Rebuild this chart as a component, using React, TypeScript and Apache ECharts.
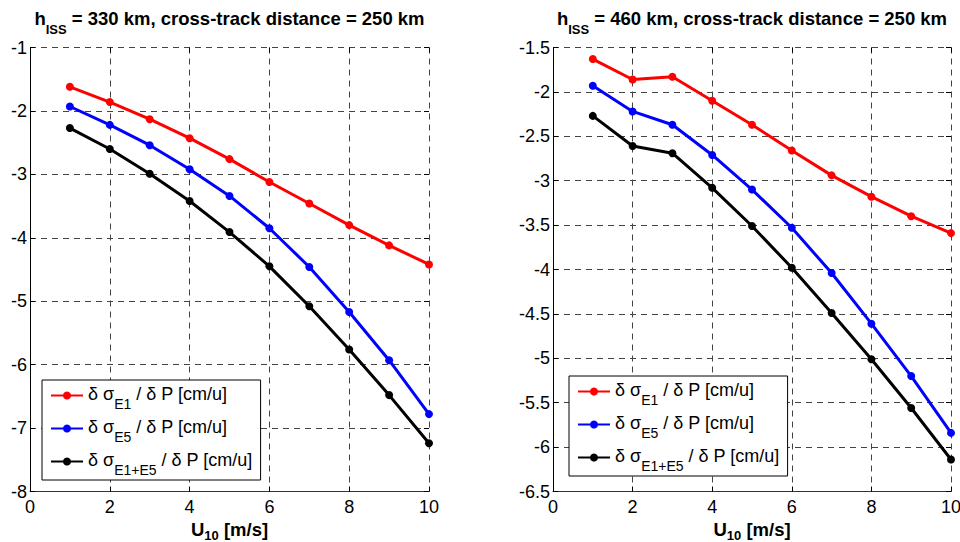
import React, { useEffect, useRef } from "react";
import * as echarts from "echarts";

const U10 = [1, 2, 3, 4, 5, 6, 7, 8, 9, 10];
const leftE1 = [-1.62, -1.86, -2.13, -2.43, -2.76, -3.12, -3.46, -3.8, -4.12, -4.42];
const leftE5 = [-1.93, -2.22, -2.54, -2.92, -3.34, -3.85, -4.46, -5.17, -5.93, -6.78];
const leftE15 = [-2.27, -2.6, -2.99, -3.42, -3.91, -4.45, -5.08, -5.76, -6.48, -7.24];
const rightE1 = [-1.63, -1.86, -1.83, -2.1, -2.37, -2.66, -2.94, -3.18, -3.4, -3.59];
const rightE5 = [-1.93, -2.22, -2.37, -2.71, -3.1, -3.53, -4.04, -4.61, -5.2, -5.84];
const rightE15 = [-2.27, -2.61, -2.69, -3.08, -3.51, -3.98, -4.49, -5.01, -5.56, -6.14];

const titles = ["330", "460"];
const FONT = "Liberation Sans, Arial, Helvetica, sans-serif";

const legendLabels: Record<string, string> = {
  a1: "{n|δ σ}{s|E1}{n| / δ P [cm/u]}",
  a5: "{n|δ σ}{s|E5}{n| / δ P [cm/u]}",
  a15: "{n|δ σ}{s|E1+E5}{n| / δ P [cm/u]}",
  b1: "{n|δ σ}{s|E1}{n| / δ P [cm/u]}",
  b5: "{n|δ σ}{s|E5}{n| / δ P [cm/u]}",
  b15: "{n|δ σ}{s|E1+E5}{n| / δ P [cm/u]}",
};

const pairs = (ys: number[]) => U10.map((x, i) => [x, ys[i]]);

export default function App() {
  const ref = useRef<HTMLDivElement>(null);
  useEffect(() => {
    if (!ref.current) return;
    const chart = echarts.init(ref.current, undefined, { renderer: "svg" });
    const grids = [
      { left: 30, right: 531, top: 47.5, bottom: 50.5, outerBoundsMode: "none", containLabel: false },
      { left: 553, right: 9, top: 47.5, bottom: 50.5, outerBoundsMode: "none", containLabel: false },
    ];
    const gridLine = { show: true, lineStyle: { type: [6, 5] as any, color: "#444", width: 1 } };
    const xName = "{b|U}{s|10}{b| [m/s]}";
    const nameRich = {
      b: { fontSize: 18.5, fontWeight: "bold", fontFamily: FONT, color: "#000", lineHeight: 20, verticalAlign: "top" },
      s: { fontSize: 13, fontWeight: "bold", fontFamily: FONT, color: "#000", lineHeight: 13, padding: [9, 0, 0, 0], verticalAlign: "top" },
    };
    const titleRich = {
      b: { fontSize: 18.5, fontWeight: "bold", fontFamily: FONT, color: "#000", lineHeight: 20, verticalAlign: "top" },
      s: { fontSize: 13, fontWeight: "bold", fontFamily: FONT, color: "#000", lineHeight: 13, padding: [14, 0, 0, 0], verticalAlign: "top" },
    };
    const xAxes: any[] = [];
    const yAxes: any[] = [];
    [0, 1].forEach((g) => {
      xAxes.push({
        type: "value", gridIndex: g, position: "bottom", min: 0, max: 10, interval: 2,
        axisLine: { show: true, onZero: false, lineStyle: { color: "#333", width: 1 } },
        axisTick: { show: true, inside: true, length: 5, lineStyle: { color: "#000" } },
        axisLabel: { fontSize: 18, color: "#000", fontFamily: FONT, margin: 6 },
        splitLine: gridLine,
        name: xName, nameLocation: "middle", nameGap: 24,
        nameTextStyle: { rich: nameRich },
      });
      xAxes.push({
        type: "value", gridIndex: g, position: "top", min: 0, max: 10, interval: 2,
        axisLine: { show: false, onZero: false },
        axisTick: { show: true, inside: true, length: 5, lineStyle: { color: "#000" } },
        axisLabel: { show: false }, splitLine: { show: false },
      });
    });
    const yr = [
      { min: -8, max: -1, interval: 1 },
      { min: -6.5, max: -1.5, interval: 0.5 },
    ];
    [0, 1].forEach((g) => {
      yAxes.push({
        type: "value", gridIndex: g, position: "left", ...yr[g],
        axisLine: { show: true, onZero: false, lineStyle: { color: "#000", width: 1 } },
        axisTick: { show: true, inside: true, length: 5, lineStyle: { color: "#000" } },
        axisLabel: { fontSize: 18, color: "#000", fontFamily: FONT, margin: 3 },
        splitLine: gridLine,
      });
      yAxes.push({
        type: "value", gridIndex: g, position: "right", ...yr[g],
        axisLine: { show: false, onZero: false },
        axisTick: { show: true, inside: true, length: 5, lineStyle: { color: "#000" } },
        axisLabel: { show: false }, splitLine: { show: false },
      });
    });
    const mk = (name: string, data: number[], color: string, g: number) => ({
      name, type: "line", xAxisIndex: g * 2, yAxisIndex: g * 2,
      data: pairs(data), symbol: "circle", symbolSize: 8, showSymbol: true,
      lineStyle: { color, width: 3 }, itemStyle: { color },
    });
    const legendRich = {
      n: { fontSize: 18, fontFamily: FONT, color: "#000", lineHeight: 21, verticalAlign: "top" },
      s: { fontSize: 14, fontFamily: FONT, color: "#000", lineHeight: 14, padding: [12, 0, 0, 0], verticalAlign: "top" },
    };
    const legendBase = {
      orient: "vertical", borderColor: "#000", borderWidth: 1, padding: [5, 8, 3, 8],
      itemGap: 7, itemWidth: 32, itemHeight: 10, backgroundColor: "#fff",
      formatter: (n: string) => legendLabels[n],
      textStyle: { rich: legendRich, padding: [0, 0, 0, 0] },
      selectedMode: false,
    };
    chart.setOption({
      animation: false,
      backgroundColor: "#fff",
      grid: grids,
      xAxis: xAxes,
      yAxis: yAxes,
      legend: [
        { ...legendBase, left: 42, top: 380, data: ["a1", "a5", "a15"] },
        { ...legendBase, left: 569, top: 376, data: ["b1", "b5", "b15"] },
      ],
      graphic: [0, 1].map((g) => ({
        type: "text",
        x: g === 0 ? 229.5 : 752,
        y: 9,
        style: {
          text: `{b|h}{s|ISS}{b| = ${titles[g]} km, cross-track distance = 250 km}`,
          align: "center",
          verticalAlign: "top",
          rich: titleRich,
        },
      })),
      series: [
        mk("a1", leftE1, "#ff0000", 0),
        mk("a5", leftE5, "#0000ff", 0),
        mk("a15", leftE15, "#000000", 0),
        mk("b1", rightE1, "#ff0000", 1),
        mk("b5", rightE5, "#0000ff", 1),
        mk("b15", rightE15, "#000000", 1),
      ],
    });
    return () => chart.dispose();
  }, []);
  return <div ref={ref} style={{ position: "absolute", left: 0, top: 0, width: 960, height: 542 }} />;
}
